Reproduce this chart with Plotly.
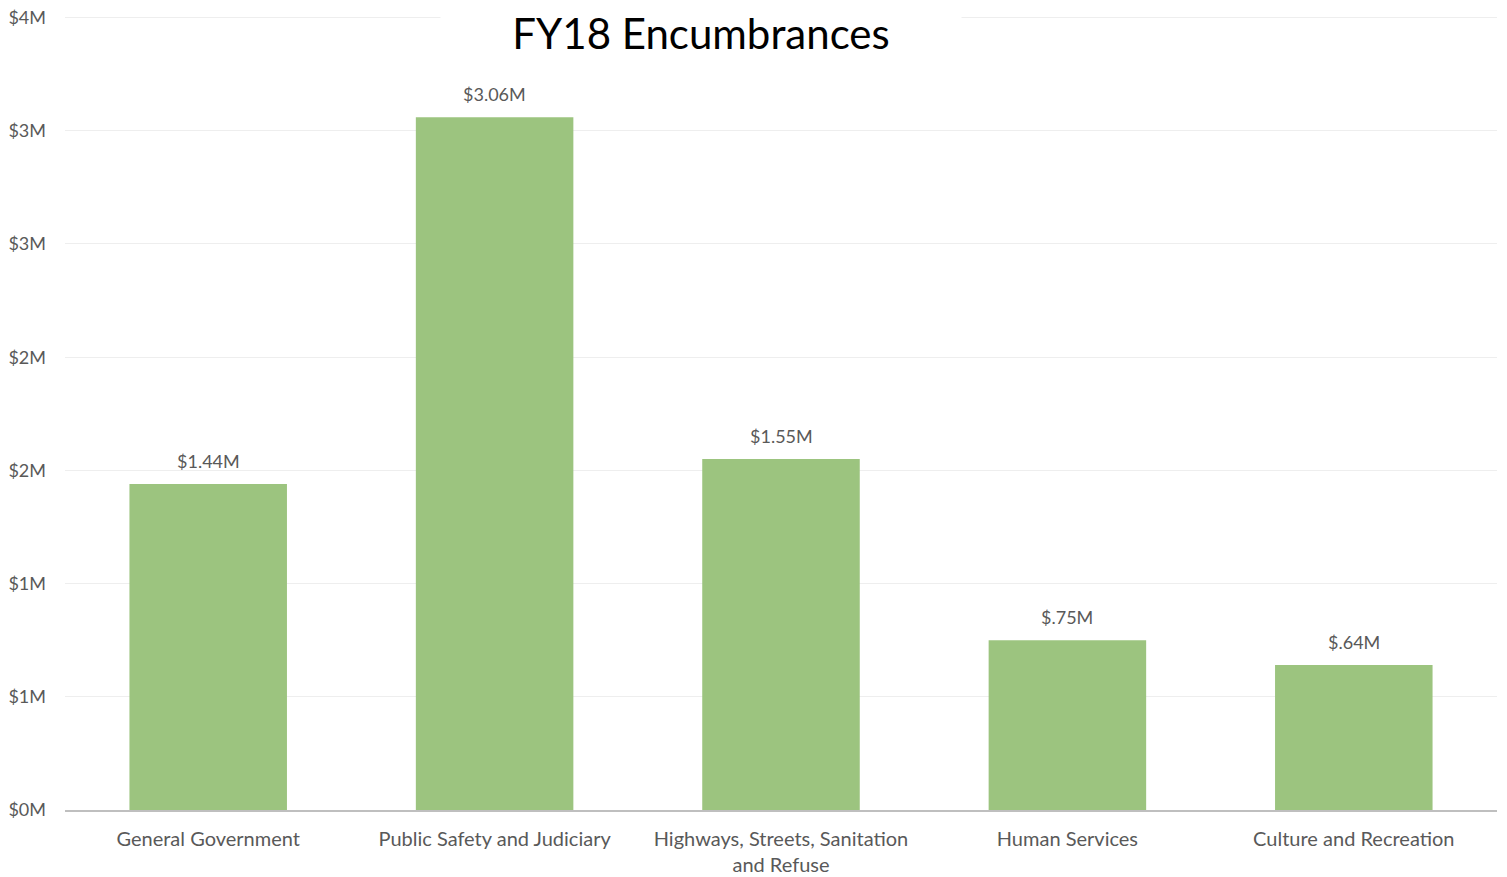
import plotly.graph_objects as go

categories = ["General Government", "Public Safety and Judiciary",
              "Highways, Streets, Sanitation<br>and Refuse", "Human Services",
              "Culture and Recreation"]
values_m = [1.44, 3.06, 1.55, 0.75, 0.64]
value_labels = ["$1.44M", "$3.06M", "$1.55M", "$.75M", "$.64M"]
y_tickvals = [0, 0.5, 1.0, 1.5, 2.0, 2.5, 3.0, 3.5]
y_ticktext = ["$0M", "$1M", "$1M", "$2M", "$2M", "$3M", "$3M", "$4M"]
title_text = "FY18 Encumbrances"

FONT = "Lato"
GRAY = "#595959"

fig = go.Figure(go.Bar(
    x=categories, y=values_m,
    marker=dict(color="#9CC47F", line=dict(width=0)),
    width=0.55, hoverinfo="skip",
))

label_annotations = [
    dict(x=c, y=v, text=t, xref="x", yref="y", showarrow=False,
         yanchor="bottom", yshift=10,
         font=dict(family=FONT, size=18, color=GRAY))
    for c, v, t in zip(categories, values_m, value_labels)
]

fig.update_layout(
    width=1499, height=869,
    margin=dict(l=57, r=10, t=8, b=67),
    paper_bgcolor="white", plot_bgcolor="white",
    showlegend=False,
    font=dict(family=FONT, color=GRAY),
    xaxis=dict(showgrid=False, showline=True, linecolor="#BFBFBF", linewidth=2,
               tickfont=dict(family=FONT, size=20, color=GRAY),
               ticks="", ticklabelstandoff=10, automargin=False),
    yaxis=dict(range=[0, 3.507], tickvals=y_tickvals, ticktext=y_ticktext,
               showgrid=True, gridcolor="#EEEEEE", gridwidth=1,
               zeroline=False, showline=False, ticks="",
               ticklabelstandoff=18, automargin=False,
               ticklabeloverflow="allow",
               tickfont=dict(family=FONT, size=18, color=GRAY)),
    annotations=label_annotations + [
        dict(text=title_text, xref="paper", yref="paper",
             x=0.444, y=1.0, xanchor="center", yanchor="middle",
             yshift=-17, showarrow=False, bgcolor="white", width=518,
             font=dict(family=FONT, size=42, color="black"))],
)

fig.write_html("out.html")
